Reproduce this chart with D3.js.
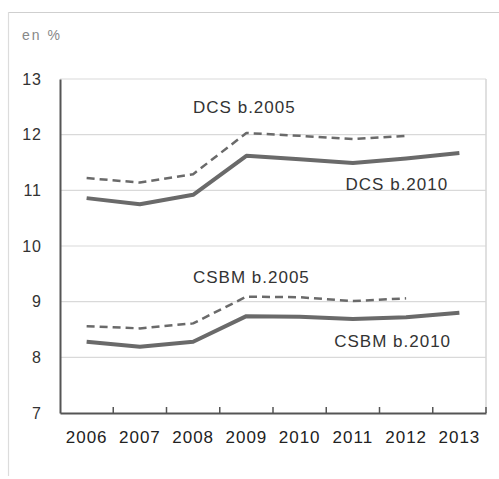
<!DOCTYPE html>
<html>
<head>
<meta charset="utf-8">
<script src="https://cdn.jsdelivr.net/npm/d3@7"></script>
<style>
  html, body { margin: 0; padding: 0; background: #fff; }
  svg { display: block; }
  text { font-family: "Liberation Sans", Arial, sans-serif; }
</style>
</head>
<body>
<script>
const years = ["2006", "2007", "2008", "2009", "2010", "2011", "2012", "2013"];
const yTicks = [7, 8, 9, 10, 11, 12, 13];
const dcs2005 = [11.22, 11.14, 11.29, 12.03, 11.98, 11.92, 11.98, null];
const dcs2010 = [10.86, 10.75, 10.92, 11.62, 11.56, 11.49, 11.57, 11.67];
const csbm2005 = [8.56, 8.52, 8.61, 9.09, 9.08, 9.01, 9.06, null];
const csbm2010 = [8.28, 8.19, 8.28, 8.74, 8.73, 8.69, 8.72, 8.80];
const seriesLabels = ["DCS b.2005", "DCS b.2010", "CSBM b.2005", "CSBM b.2010"];

(function () {
const W = 499, H = 479;
const svg = d3.select("body").append("svg").attr("width", W).attr("height", H);

// outer frame (top + left)
svg.append("line").attr("x1", 8).attr("x2", W).attr("y1", 12.5).attr("y2", 12.5)
  .attr("stroke", "#cfcfcf").attr("stroke-width", 1.2);
svg.append("line").attr("x1", 8.5).attr("x2", 8.5).attr("y1", 12).attr("y2", 476)
  .attr("stroke", "#dcdcdc").attr("stroke-width", 1.2);

const pL = 60, pR = 486, pT = 79, pB = 413;
const x = d3.scaleBand().domain(years).range([pL, pR]);
const y = d3.scaleLinear().domain([7, 13]).range([pB, pT]);

// gridlines
svg.append("g").selectAll("line").data(yTicks.filter(d => d > 7)).join("line")
  .attr("x1", pL).attr("x2", pR)
  .attr("y1", d => y(d)).attr("y2", d => y(d))
  .attr("stroke", "#d9d9d9").attr("stroke-width", 1.2);
// right border
svg.append("line").attr("x1", pR).attr("x2", pR).attr("y1", pT).attr("y2", pB)
  .attr("stroke", "#d6d6d6").attr("stroke-width", 1.5);

// y axis
const yAxis = svg.append("g").attr("transform", `translate(${pL},0)`)
  .call(d3.axisLeft(y).tickValues(yTicks).tickFormat(d3.format("d")).tickSize(0).tickPadding(18));
yAxis.select(".domain").attr("stroke", "#555").attr("stroke-width", 2);
yAxis.selectAll("text").attr("font-size", 16).attr("letter-spacing", 1).attr("fill", "#333");

// x axis with boundary ticks pointing up
const xAxis = svg.append("g").attr("transform", `translate(0,${pB})`)
  .call(d3.axisBottom(x).tickSize(0).tickPadding(18));
xAxis.select(".domain").attr("stroke", "#555").attr("stroke-width", 2);
xAxis.selectAll("text").attr("font-size", 17).attr("letter-spacing", 1).attr("fill", "#222");
const bounds = years.slice(1).map(d => x(d)).concat([pR]);
xAxis.selectAll(".bt").data(bounds).join("line").attr("class", "bt")
  .attr("x1", d => d).attr("x2", d => d).attr("y1", 0).attr("y2", -6)
  .attr("stroke", "#555").attr("stroke-width", 1.5);

// "en %"
svg.append("text").attr("x", 22).attr("y", 40).attr("font-size", 14)
  .attr("letter-spacing", 2).attr("fill", "#888").text("en %");

const cx = d => x(d) + x.bandwidth() / 2;
const line = d3.line().defined(d => d[1] != null)
  .x(d => cx(d[0])).y(d => y(d[1]));
const pairs = arr => years.map((yr, i) => [yr, arr[i]]);

const series = [
  { data: dcs2005, dashed: true },
  { data: dcs2010, dashed: false },
  { data: csbm2005, dashed: true },
  { data: csbm2010, dashed: false }
];
series.forEach(s => {
  svg.append("path").datum(pairs(s.data))
    .attr("d", line).attr("fill", "none")
    .attr("stroke", "#6a6a6a")
    .attr("stroke-width", s.dashed ? 2.5 : 4)
    .attr("stroke-dasharray", s.dashed ? "8,5" : null)
    .attr("stroke-linejoin", "round");
});

// series labels
const labelPos = [
  { t: seriesLabels[0], yr: "2009", v: 12.39, dx: -2 },
  { t: seriesLabels[1], yr: "2011", v: 11.0, dx: 44 },
  { t: seriesLabels[2], yr: "2009", v: 9.335, dx: 5 },
  { t: seriesLabels[3], yr: "2012", v: 8.186, dx: -13.5 }
];
svg.append("g").selectAll("text").data(labelPos).join("text")
  .attr("x", d => cx(d.yr) + d.dx).attr("y", d => y(d.v))
  .attr("text-anchor", "middle").attr("font-size", 17).attr("letter-spacing", 1)
  .attr("fill", "#333")
  .text(d => d.t);
})();
</script>
</body>
</html>
